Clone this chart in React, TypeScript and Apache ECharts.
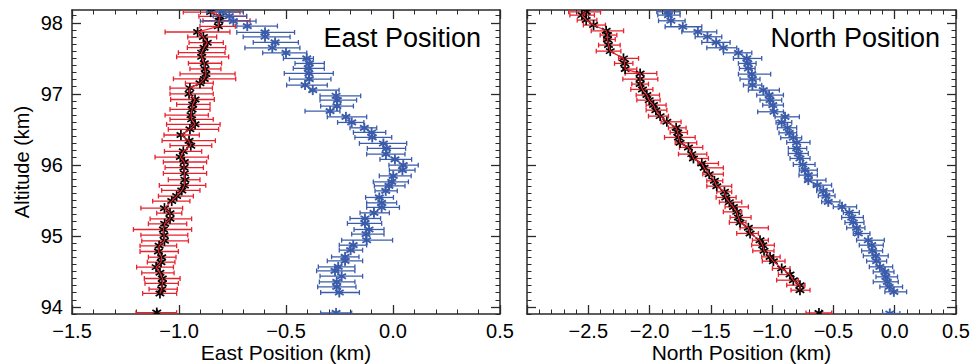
import React, { useEffect, useRef } from "react";
import * as echarts from "echarts";

// ---------- East panel: black (red error bars) ----------
const eastBlackAlt = [98.15, 98.09, 98.03, 97.95, 97.87, 97.80, 97.72, 97.65, 97.58, 97.52, 97.43, 97.35, 97.28, 97.21, 97.15, 97.08, 97.00, 96.92, 96.85, 96.78, 96.70, 96.64, 96.57, 96.50, 96.42, 96.34, 96.27, 96.19, 96.11, 96.04, 95.96, 95.88, 95.79, 95.71, 95.64, 95.56, 95.49, 95.39, 95.32, 95.24, 95.17, 95.09, 95.01, 94.93, 94.86, 94.78, 94.70, 94.63, 94.56, 94.48, 94.40, 94.33, 94.25, 94.19];
const eastBlackVal = [-0.852, -0.808, -0.813, -0.816, -0.913, -0.886, -0.868, -0.883, -0.894, -0.894, -0.882, -0.878, -0.874, -0.882, -0.902, -0.949, -0.953, -0.925, -0.936, -0.939, -0.944, -0.941, -0.925, -0.949, -0.991, -0.953, -0.945, -0.980, -0.994, -0.975, -0.977, -0.975, -0.972, -0.975, -0.987, -1.011, -1.034, -1.068, -1.042, -1.042, -1.067, -1.073, -1.070, -1.068, -1.093, -1.096, -1.081, -1.084, -1.107, -1.089, -1.078, -1.078, -1.081, -1.089];
const eastBlackLo = [-0.980, -0.907, -0.888, -0.902, -1.065, -0.959, -0.953, -0.961, -1.003, -1.011, -0.956, -0.949, -0.995, -1.026, -0.970, -1.042, -1.042, -1.039, -1.011, -1.042, -1.065, -1.042, -1.058, -1.050, -1.070, -1.079, -1.042, -1.068, -1.112, -1.073, -1.065, -1.073, -1.050, -1.092, -1.081, -1.096, -1.123, -1.178, -1.104, -1.135, -1.143, -1.213, -1.178, -1.174, -1.182, -1.182, -1.143, -1.148, -1.198, -1.174, -1.162, -1.159, -1.140, -1.170];
const eastBlackHi = [-0.715, -0.684, -0.668, -0.737, -0.762, -0.824, -0.793, -0.782, -0.785, -0.768, -0.801, -0.804, -0.738, -0.735, -0.840, -0.844, -0.840, -0.835, -0.855, -0.855, -0.863, -0.840, -0.808, -0.815, -0.905, -0.830, -0.847, -0.894, -0.863, -0.871, -0.886, -0.871, -0.902, -0.875, -0.902, -0.933, -0.949, -0.983, -0.987, -0.941, -0.964, -0.941, -0.959, -0.956, -1.011, -1.003, -1.014, -1.019, -1.026, -1.023, -0.995, -1.003, -1.008, -1.011];
// isolated lowest point (not joined by the line)
const eastBlackLast = { alt: 93.92, val: -1.104, lo: -1.201, hi: -1.011 };

// ---------- East panel: blue ----------
const eastBlueAlt = [98.155, 98.094, 98.024, 97.954, 97.865, 97.803, 97.724, 97.648, 97.577, 97.498, 97.428, 97.358, 97.287, 97.207, 97.123, 97.052, 96.972, 96.911, 96.827, 96.756, 96.676, 96.597, 96.521, 96.456, 96.386, 96.301, 96.231, 96.151, 96.076, 95.996, 95.925, 95.845, 95.761, 95.704, 95.634, 95.541, 95.465, 95.400, 95.324, 95.245, 95.175, 95.090, 95.024, 94.939, 94.869, 94.799, 94.704, 94.648, 94.563, 94.507, 94.432, 94.352, 94.282, 94.203];
const eastBlueVal = [-0.796, -0.765, -0.746, -0.681, -0.598, -0.598, -0.551, -0.564, -0.500, -0.403, -0.391, -0.396, -0.393, -0.391, -0.411, -0.375, -0.266, -0.260, -0.262, -0.294, -0.220, -0.193, -0.134, -0.100, -0.097, -0.045, -0.030, -0.033, 0.009, 0.048, 0.044, 0.001, -0.006, -0.019, -0.034, -0.064, -0.053, -0.053, -0.089, -0.131, -0.131, -0.112, -0.126, -0.123, -0.186, -0.198, -0.224, -0.224, -0.256, -0.271, -0.240, -0.263, -0.263, -0.251];
const eastBlueLo = [-0.87, -0.84, -0.90, -0.73, -0.73, -0.700, -0.653, -0.692, -0.609, -0.512, -0.458, -0.466, -0.508, -0.484, -0.497, -0.388, -0.341, -0.341, -0.338, -0.411, -0.307, -0.259, -0.201, -0.185, -0.178, -0.157, -0.120, -0.123, -0.061, -0.019, -0.017, -0.064, -0.092, -0.087, -0.084, -0.128, -0.123, -0.123, -0.154, -0.201, -0.213, -0.182, -0.193, -0.240, -0.251, -0.251, -0.287, -0.307, -0.349, -0.357, -0.341, -0.344, -0.352, -0.338];
const eastBlueHi = [-0.70, -0.684, -0.64, -0.54, -0.46, -0.481, -0.442, -0.435, -0.403, -0.372, -0.321, -0.321, -0.279, -0.290, -0.307, -0.252, -0.151, -0.170, -0.185, -0.248, -0.123, -0.136, -0.076, -0.034, -0.006, 0.064, 0.059, 0.056, 0.087, 0.118, 0.103, 0.085, 0.072, 0.056, 0.020, 0.002, 0.017, 0.030, -0.017, -0.058, -0.053, -0.042, -0.042, -0.002, -0.123, -0.142, -0.159, -0.142, -0.178, -0.178, -0.142, -0.178, -0.173, -0.157];
const eastBlueLast = { alt: 93.915, val: -0.266, lo: -0.338, hi: -0.193 };

// ---------- North panel: black (red error bars) ----------
const northBlackAlt = [98.155, 98.108, 98.038, 97.968, 97.887, 97.827, 97.766, 97.686, 97.601, 97.499, 97.428, 97.348, 97.287, 97.207, 97.137, 97.062, 96.982, 96.911, 96.841, 96.770, 96.686, 96.606, 96.521, 96.456, 96.386, 96.310, 96.245, 96.151, 96.090, 96.020, 95.958, 95.869, 95.775, 95.700, 95.620, 95.541, 95.475, 95.408, 95.338, 95.259, 95.189, 95.113, 95.034, 94.939, 94.869, 94.789, 94.704, 94.644, 94.541, 94.456, 94.376, 94.306, 94.235];
const northBlackVal = [-2.517, -2.552, -2.517, -2.457, -2.354, -2.343, -2.343, -2.335, -2.321, -2.213, -2.204, -2.199, -2.077, -2.077, -2.077, -2.058, -2.022, -2.003, -1.968, -1.949, -1.914, -1.859, -1.783, -1.770, -1.764, -1.751, -1.683, -1.656, -1.642, -1.574, -1.555, -1.514, -1.471, -1.452, -1.389, -1.378, -1.349, -1.316, -1.289, -1.275, -1.262, -1.194, -1.180, -1.099, -1.077, -1.066, -1.017, -0.990, -0.922, -0.854, -0.827, -0.773, -0.773];
const northBlackLo = [-2.66, -2.65, -2.59, -2.54, -2.476, -2.403, -2.375, -2.416, -2.435, -2.253, -2.286, -2.218, -2.199, -2.218, -2.145, -2.153, -2.109, -2.104, -2.028, -2.028, -2.009, -1.906, -1.846, -1.832, -1.878, -1.791, -1.756, -1.764, -1.669, -1.607, -1.574, -1.566, -1.533, -1.533, -1.452, -1.457, -1.430, -1.384, -1.398, -1.343, -1.349, -1.262, -1.289, -1.161, -1.167, -1.158, -1.085, -1.080, -0.998, -0.949, -0.963, -0.881, -0.846];
const northBlackHi = [-2.40, -2.45, -2.43, -2.36, -2.212, -2.267, -2.280, -2.240, -2.234, -2.090, -2.136, -2.104, -1.941, -1.933, -2.009, -1.973, -1.919, -1.914, -1.865, -1.859, -1.846, -1.743, -1.702, -1.691, -1.628, -1.615, -1.566, -1.533, -1.520, -1.438, -1.398, -1.398, -1.403, -1.330, -1.330, -1.294, -1.248, -1.194, -1.248, -1.172, -1.213, -1.031, -1.112, -1.031, -0.982, -0.985, -0.935, -0.895, -0.854, -0.841, -0.786, -0.732, -0.691];
const northBlackLast = { alt: 93.915, val: -0.618, lo: -0.724, hi: -0.514 };

// ---------- North panel: blue ----------
const northBlueAlt = [98.155, 98.108, 98.028, 97.944, 97.873, 97.803, 97.724, 97.648, 97.577, 97.498, 97.428, 97.357, 97.277, 97.207, 97.123, 97.052, 96.982, 96.911, 96.841, 96.747, 96.676, 96.597, 96.522, 96.451, 96.381, 96.315, 96.231, 96.160, 96.090, 96.005, 95.925, 95.855, 95.785, 95.714, 95.634, 95.564, 95.479, 95.409, 95.329, 95.259, 95.188, 95.113, 95.033, 94.939, 94.869, 94.789, 94.719, 94.644, 94.564, 94.493, 94.423, 94.353, 94.282, 94.212];
const northBlueVal = [-1.851, -1.846, -1.826, -1.729, -1.606, -1.528, -1.457, -1.398, -1.275, -1.207, -1.199, -1.194, -1.166, -1.161, -1.161, -1.072, -1.025, -1.017, -0.995, -0.985, -0.895, -0.922, -0.876, -0.860, -0.827, -0.800, -0.800, -0.786, -0.773, -0.750, -0.732, -0.705, -0.705, -0.632, -0.583, -0.561, -0.542, -0.430, -0.370, -0.351, -0.338, -0.311, -0.297, -0.216, -0.188, -0.180, -0.156, -0.148, -0.121, -0.080, -0.072, -0.060, -0.045, -0.007];
const northBlueLo = [-1.941, -1.933, -1.927, -1.873, -1.737, -1.628, -1.574, -1.533, -1.397, -1.316, -1.275, -1.267, -1.275, -1.262, -1.234, -1.194, -1.126, -1.099, -1.077, -1.118, -0.976, -0.968, -0.957, -0.944, -0.930, -0.881, -0.868, -0.868, -0.854, -0.827, -0.778, -0.781, -0.732, -0.664, -0.637, -0.623, -0.596, -0.501, -0.419, -0.433, -0.406, -0.392, -0.338, -0.311, -0.289, -0.270, -0.256, -0.229, -0.207, -0.175, -0.153, -0.175, -0.121, -0.080];
const northBlueHi = [-1.751, -1.751, -1.710, -1.574, -1.452, -1.411, -1.343, -1.289, -1.166, -1.085, -1.131, -1.139, -1.012, -1.099, -1.085, -0.941, -0.908, -0.922, -0.908, -0.908, -0.778, -0.840, -0.800, -0.800, -0.759, -0.691, -0.718, -0.705, -0.691, -0.650, -0.631, -0.631, -0.561, -0.515, -0.501, -0.487, -0.447, -0.311, -0.289, -0.256, -0.251, -0.243, -0.202, -0.085, -0.093, -0.099, -0.053, -0.066, -0.017, -0.006, 0.023, 0.029, 0.064, 0.097];
const northBlueLast = { alt: 93.907, val: -0.040, lo: -0.099, hi: 0.042 };

// ---------- axes ----------
const yMin = 93.9;
const yMax = 98.18;
const yMajorTicks = [94, 95, 96, 97, 98];
const eastMin = -1.5;
const eastMax = 0.5;
const eastMajorTicks = [-1.5, -1.0, -0.5, 0.0, 0.5];
const eastLabels = [-1.5, -1.0, -0.5, 0.0, 0.5];
const northMin = -3.0;
const northMax = 0.5;
const northMajorTicks = [-3.0, -2.5, -2.0, -1.5, -1.0, -0.5, 0.0, 0.5];
const northLabels = [-2.5, -2.0, -1.5, -1.0, -0.5, 0.0, 0.5];

const RED = "#e8212b";
const BLUE = "#3a5caa";
const FRAME = "#2a2a2a";
const FONT = "'Liberation Sans', Arial, Helvetica, sans-serif";

function steps(a: number, b: number, s: number): number[] {
  const out: number[] = [];
  const n = Math.round((b - a) / s);
  for (let i = 0; i <= n; i++) out.push(Math.round((a + i * s) * 100) / 100);
  return out;
}

const fmt = (v: number) => v.toFixed(1).replace("-", "\u2212");

function xAxes(gi: number, min: number, max: number, major: number[], labels: number[]) {
  const minor = steps(min, max, 0.1);
  const common = { type: "value", gridIndex: gi, min, max, splitLine: { show: false } };
  return [
    {
      ...common,
      position: "bottom",
      axisLine: { show: true, onZero: false, lineStyle: { color: FRAME, width: 1.5 } },
      axisTick: { show: true, inside: true, length: 9, customValues: major, lineStyle: { color: FRAME, width: 1.3 } },
      axisLabel: {
        show: true,
        customValues: labels,
        formatter: (v: number) => fmt(v),
        color: "#000",
        fontSize: 20,
        fontFamily: FONT,
        margin: 7,
      },
    },
    {
      ...common,
      position: "bottom",
      axisLine: { show: false, onZero: false },
      axisTick: { show: true, inside: true, length: 4.5, customValues: minor, lineStyle: { color: FRAME, width: 1 } },
      axisLabel: { show: false },
    },
    {
      ...common,
      position: "top",
      axisLine: { show: true, onZero: false, lineStyle: { color: FRAME, width: 1.5 } },
      axisTick: { show: true, inside: true, length: 9, customValues: major, lineStyle: { color: FRAME, width: 1.3 } },
      axisLabel: { show: false },
    },
    {
      ...common,
      position: "top",
      axisLine: { show: false, onZero: false },
      axisTick: { show: true, inside: true, length: 4.5, customValues: minor, lineStyle: { color: FRAME, width: 1 } },
      axisLabel: { show: false },
    },
  ];
}

function yAxes(gi: number, withLabels: boolean) {
  const minor = steps(yMin, 98.1, 0.1);
  const common = { type: "value", gridIndex: gi, min: yMin, max: yMax, splitLine: { show: false } };
  return [
    {
      ...common,
      position: "left",
      axisLine: { show: true, onZero: false, lineStyle: { color: FRAME, width: 1.5 } },
      axisTick: { show: true, inside: true, length: 9, customValues: yMajorTicks, lineStyle: { color: FRAME, width: 1.3 } },
      axisLabel: withLabels
        ? { show: true, customValues: yMajorTicks, formatter: (v: number) => String(Math.round(v)), color: "#000", fontSize: 20, fontFamily: FONT, margin: 9 }
        : { show: false },
      name: withLabels ? "Altitude (km)" : "",
      nameLocation: "middle",
      nameGap: 40,
      nameRotate: 90,
      nameTextStyle: { color: "#000", fontSize: 20, fontFamily: FONT },
    },
    {
      ...common,
      position: "left",
      axisLine: { show: false, onZero: false },
      axisTick: { show: true, inside: true, length: 4.5, customValues: minor, lineStyle: { color: FRAME, width: 1 } },
      axisLabel: { show: false },
    },
    {
      ...common,
      position: "right",
      axisLine: { show: true, onZero: false, lineStyle: { color: FRAME, width: 1.5 } },
      axisTick: { show: true, inside: true, length: 9, customValues: yMajorTicks, lineStyle: { color: FRAME, width: 1.3 } },
      axisLabel: { show: false },
    },
    {
      ...common,
      position: "right",
      axisLine: { show: false, onZero: false },
      axisTick: { show: true, inside: true, length: 4.5, customValues: minor, lineStyle: { color: FRAME, width: 1 } },
      axisLabel: { show: false },
    },
  ];
}

type Last = { alt: number; val: number; lo: number; hi: number };

function rows(alt: number[], val: number[], lo: number[], hi: number[], last: Last) {
  const r = alt.map((a, i) => [lo[i], hi[i], a, val[i]]);
  r.push([last.lo, last.hi, last.alt, last.val]);
  return r;
}

function barSeries(data: number[][], color: string, gi: number) {
  return {
    type: "custom",
    xAxisIndex: gi * 4,
    yAxisIndex: gi * 4,
    clip: true,
    silent: true,
    data,
    encode: { x: [0, 1], y: 2 },
    renderItem: (_p: any, api: any) => {
      const y = api.value(2);
      const a = api.coord([api.value(0), y]);
      const b = api.coord([api.value(1), y]);
      const c = 2.4;
      const st = { stroke: color, lineWidth: 1.3 };
      return {
        type: "group",
        children: [
          { type: "line", shape: { x1: a[0], y1: a[1], x2: b[0], y2: b[1] }, style: st },
          { type: "line", shape: { x1: a[0], y1: a[1] - c, x2: a[0], y2: a[1] + c }, style: st },
          { type: "line", shape: { x1: b[0], y1: b[1] - c, x2: b[0], y2: b[1] + c }, style: st },
        ],
      };
    },
  };
}

function starSeries(data: number[][], color: string, gi: number, lw: number) {
  return {
    type: "custom",
    xAxisIndex: gi * 4,
    yAxisIndex: gi * 4,
    clip: true,
    silent: true,
    data,
    encode: { x: 3, y: 2 },
    renderItem: (_p: any, api: any) => {
      const p = api.coord([api.value(3), api.value(2)]);
      const r = 5;
      const dx = r * Math.cos(Math.PI / 6);
      const dy = r * Math.sin(Math.PI / 6);
      const st = { stroke: color, lineWidth: lw };
      return {
        type: "group",
        children: [
          { type: "line", shape: { x1: p[0], y1: p[1] - r, x2: p[0], y2: p[1] + r }, style: st },
          { type: "line", shape: { x1: p[0] - dx, y1: p[1] - dy, x2: p[0] + dx, y2: p[1] + dy }, style: st },
          { type: "line", shape: { x1: p[0] - dx, y1: p[1] + dy, x2: p[0] + dx, y2: p[1] - dy }, style: st },
        ],
      };
    },
  };
}

function lineSeries(alt: number[], val: number[], gi: number) {
  return {
    type: "line",
    xAxisIndex: gi * 4,
    yAxisIndex: gi * 4,
    data: alt.map((a, i) => [val[i], a]),
    symbol: "none",
    silent: true,
    lineStyle: { color: RED, width: 1.2 },
  };
}

function label(text: string, x: number, y: number, size: number, align: string) {
  return {
    type: "text",
    x,
    y,
    style: { text, fill: "#000", font: `${size}px ${FONT}`, align, verticalAlign: "middle", textAlign: align, textVerticalAlign: "middle" },
  };
}

export default function App() {
  const ref = useRef<HTMLDivElement>(null);
  useEffect(() => {
    if (!ref.current) return;
    const chart = echarts.init(ref.current, undefined, { renderer: "svg" });
    const eb = rows(eastBlackAlt, eastBlackVal, eastBlackLo, eastBlackHi, eastBlackLast);
    const eu = rows(eastBlueAlt, eastBlueVal, eastBlueLo, eastBlueHi, eastBlueLast);
    const nb = rows(northBlackAlt, northBlackVal, northBlackLo, northBlackHi, northBlackLast);
    const nu = rows(northBlueAlt, northBlueVal, northBlueLo, northBlueHi, northBlueLast);
    chart.setOption({
      animation: false,
      backgroundColor: "#ffffff",
      textStyle: { fontFamily: FONT },
      grid: [
        { left: 72, top: 10, width: 428, height: 304, outerBoundsMode: "none", containLabel: false },
        { left: 527, top: 10, width: 429, height: 304, outerBoundsMode: "none", containLabel: false },
      ],
      xAxis: [
        ...xAxes(0, eastMin, eastMax, eastMajorTicks, eastLabels),
        ...xAxes(1, northMin, northMax, northMajorTicks, northLabels),
      ],
      yAxis: [...yAxes(0, true), ...yAxes(1, false)],
      series: [
        barSeries(eb, RED, 0),
        starSeries(eb, "#000", 0, 1.7),
        lineSeries(eastBlackAlt, eastBlackVal, 0),
        barSeries(eu, BLUE, 0),
        starSeries(eu, BLUE, 0, 1.9),
        barSeries(nb, RED, 1),
        starSeries(nb, "#000", 1, 1.7),
        lineSeries(northBlackAlt, northBlackVal, 1),
        barSeries(nu, BLUE, 1),
        starSeries(nu, BLUE, 1, 1.9),
      ],
      graphic: [
        label("East Position", 481, 37.5, 27, "right"),
        label("North Position", 940, 37.5, 27, "right"),
        label("East Position (km)", 286, 352, 21, "center"),
        label("North Position (km)", 741.5, 352, 21, "center"),
      ],
    });
    return () => chart.dispose();
  }, []);
  return <div ref={ref} style={{ position: "absolute", left: 0, top: 0, width: 975, height: 364 }} />;
}
